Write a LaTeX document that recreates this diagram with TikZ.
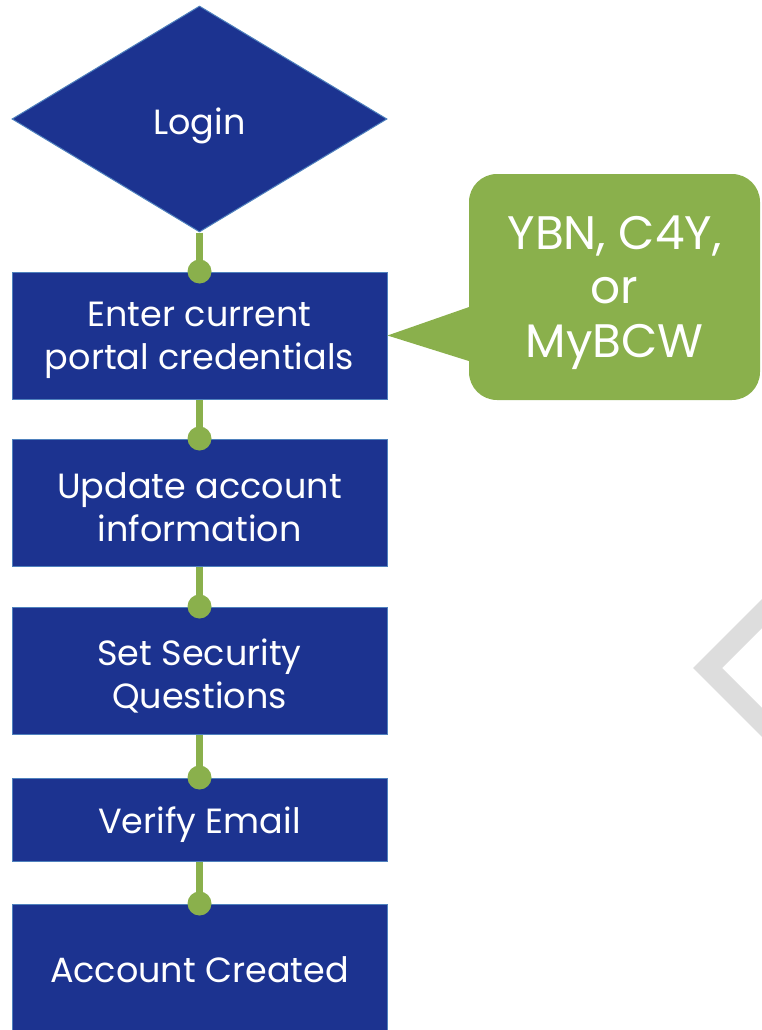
\documentclass[tikz,border=0pt]{standalone}
\usepackage{fontspec}
\setmainfont{Poppins}
\usetikzlibrary{shapes.geometric}
\definecolor{boxblue}{RGB}{28,51,144}
\definecolor{edgeblue}{RGB}{79,129,189}
\definecolor{leaf}{RGB}{138,176,76}
\definecolor{chev}{RGB}{221,221,221}
\begin{document}
\begin{tikzpicture}[x=1pt,y=-1pt,
  stepbox/.style={draw=edgeblue, line width=1pt, fill=boxblue,
    minimum width=375pt, inner sep=0pt},
  steptext/.style={text=white, inner sep=0pt, align=center, yshift=-5pt,
    font=\fontsize{35}{43}\selectfont},
  link/.style={draw=leaf, line width=7pt},
  dot/.style={fill=leaf},
  note/.style={fill=leaf, rounded corners=28pt, minimum width=291pt,
    minimum height=226pt, inner sep=0pt},
  notetext/.style={text=white, inner sep=0pt, align=center, yshift=-6pt,
    font=\fontsize{47}{54}\selectfont}]
\useasboundingbox (0,0) rectangle (762,1030);
\clip (0,0) rectangle (762,1030);
% grey chevron
\fill[chev] (762,599) -- (693,668) -- (762,737) -- (762,708) -- (722,668) -- (762,628) -- cycle;
% shapes
\node[stepbox, diamond, aspect=1.66, minimum width=375pt, minimum height=226pt] (login) at (199.5,119) {};
\node[stepbox, minimum height=127pt] (b1) at (199.5,335.5) {};
\node[stepbox, minimum height=127pt] (b2) at (199.5,502.5) {};
\node[stepbox, minimum height=127pt] (b3) at (199.5,670.5) {};
\node[stepbox, minimum height=83pt] (b4) at (199.5,819.5) {};
\node[stepbox, minimum height=130pt] (b5) at (199.5,969) {};
\node[steptext, yshift=-2pt] (t0) at (login.center) {Login};
\node[steptext] (t1) at (b1.center) {Enter current\\portal credentials};
\node[steptext] (t2) at (b2.center) {Update account\\information};
\node[steptext] (t3) at (b3.center) {Set Security\\Questions};
\node[steptext] (t4) at (b4.center) {Verify Email};
\node[steptext, yshift=4pt] (t5) at (b5.center) {Account Created};
% connectors
\draw[link] (login.south) -- (b1.north);
\draw[link] (b1.south) -- (b2.north);
\draw[link] (b2.south) -- (b3.north);
\draw[link] (b3.south) -- (b4.north);
\draw[link] (b4.south) -- (b5.north);
\foreach \n in {b1,b2,b3,b4,b5} \fill[dot] (\n.north) circle (12pt);
% callout
\node[note] (callout) at (614.5,287) {};
\node[notetext] (ct) at (callout.center) {YBN, C4Y,\\or\\MyBCW};
\coordinate (tipA) at (472,306);
\coordinate (tipB) at (472,362);
\fill[leaf] (tipA) -- (b1.east) -- (tipB) -- cycle;
\end{tikzpicture}
\end{document}
